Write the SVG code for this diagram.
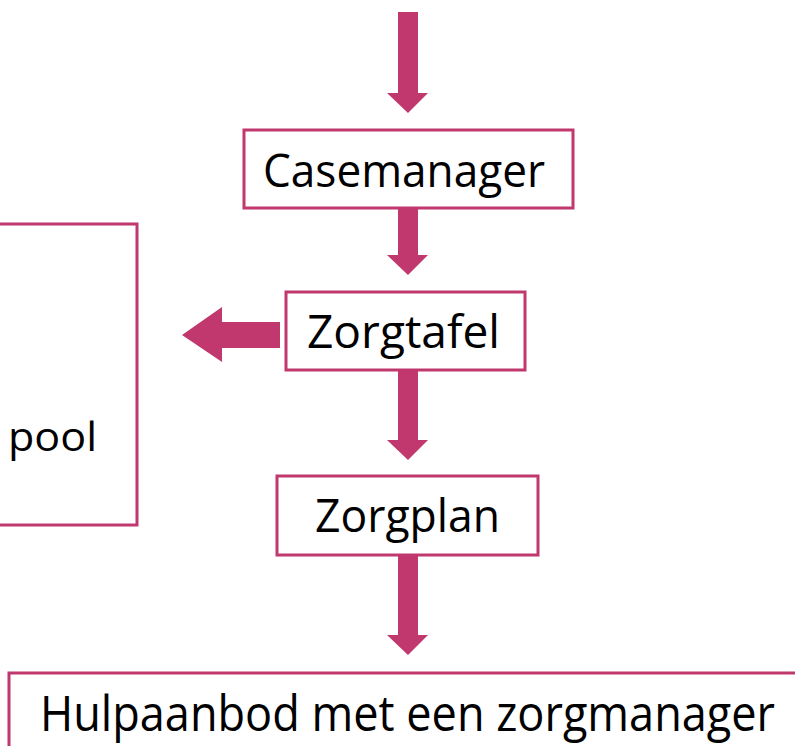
<svg xmlns="http://www.w3.org/2000/svg" width="795" height="746" viewBox="0 0 795 746">
<style>
.box{fill:#fff;stroke:#C0386E;stroke-width:3}
.arr{fill:#C0386E}
.t{font-family:"Open Sans","DejaVu Sans",sans-serif;fill:#000}
</style>
<rect width="795" height="746" fill="#fff"/>
<g id="connectors">
<polygon class="arr" points="398,12 418,12 418,93 428,93 408,113 387,93 398,93"/>
<polygon class="arr" points="398,208 418,208 418,255 428,255 408,275 387,255 398,255"/>
<polygon class="arr" points="280,322 280,348 222,348 222,362 182,335 222,307 222,322"/>
<polygon class="arr" points="398,370 418,370 418,440 428,440 408,460 387,440 398,440"/>
<polygon class="arr" points="398,555 418,555 418,635 428,635 408,655 387,635 398,635"/>
</g>
<g id="pool">
<rect class="box" x="-10" y="224" width="147" height="301"/>
<text class="t" x="8" y="451" font-size="40" textLength="89" lengthAdjust="spacingAndGlyphs">pool</text>
</g>
<g id="casemanager">
<rect class="box" x="244" y="130" width="329" height="78"/>
<text class="t" x="263" y="187" font-size="46" textLength="282" lengthAdjust="spacingAndGlyphs">Casemanager</text>
</g>
<g id="zorgtafel">
<rect class="box" x="286" y="292" width="239" height="78"/>
<text class="t" x="307" y="348" font-size="46" textLength="193" lengthAdjust="spacingAndGlyphs">Zorgtafel</text>
</g>
<g id="zorgplan">
<rect class="box" x="277" y="476" width="261" height="79"/>
<text class="t" x="315" y="532" font-size="46" textLength="185" lengthAdjust="spacingAndGlyphs">Zorgplan</text>
</g>
<g id="hulpaanbod">
<rect class="box" x="9" y="673" width="800" height="90"/>
<text class="t" x="40" y="731" font-size="49" textLength="735" lengthAdjust="spacingAndGlyphs">Hulpaanbod met een zorgmanager</text>
</g>
</svg>
